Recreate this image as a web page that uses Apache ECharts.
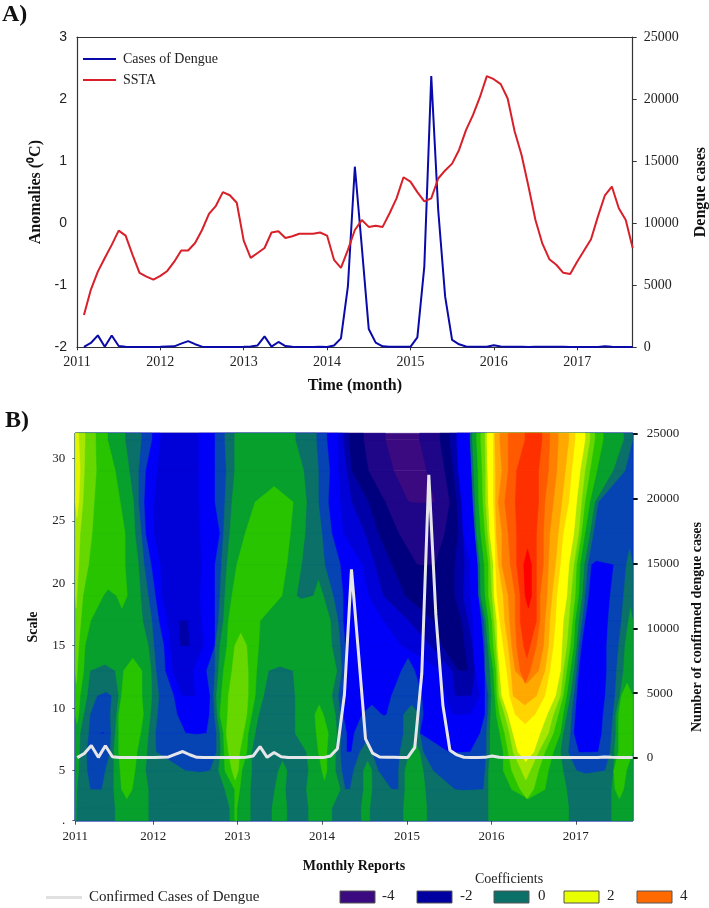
<!DOCTYPE html>
<html><head><meta charset="utf-8">
<script src="https://cdn.jsdelivr.net/npm/echarts@6/dist/echarts.min.js"></script>
<style>html,body{margin:0;padding:0;background:#fff}#c{width:709px;height:908px}</style>
</head><body><div id="c"></div>
<script>
// months counted from January 2011 (1..80)
const months = [1,2,3,4,5,6,7,8,9,10,11,12,13,14,15,16,17,18,19,20,21,22,23,24,25,26,27,28,29,30,31,32,33,34,35,36,37,38,39,40,41,42,43,44,45,46,47,48,49,50,51,52,53,54,55,56,57,58,59,60,61,62,63,64,65,66,67,68,69,70,71,72,73,74,75,76,77,78,79,80];
const ssta = [-1.48,-1.07,-0.78,-0.56,-0.35,-0.12,-0.20,-0.51,-0.80,-0.86,-0.91,-0.85,-0.77,-0.62,-0.44,-0.44,-0.32,-0.11,0.15,0.28,0.50,0.45,0.33,-0.28,-0.56,-0.48,-0.40,-0.15,-0.13,-0.24,-0.21,-0.17,-0.17,-0.17,-0.15,-0.20,-0.59,-0.72,-0.43,-0.11,0.05,-0.06,-0.04,-0.06,0.16,0.40,0.74,0.67,0.50,0.35,0.40,0.72,0.85,0.96,1.18,1.50,1.74,2.03,2.37,2.32,2.24,2.01,1.48,1.10,0.59,0.05,-0.33,-0.58,-0.67,-0.80,-0.82,-0.62,-0.44,-0.26,0.11,0.45,0.59,0.24,0.05,-0.40];
const dengue = [30,350,960,50,950,100,40,30,30,30,30,40,60,80,300,500,250,50,30,30,30,30,30,40,60,150,880,50,430,100,40,30,30,30,40,30,150,720,4900,14550,8100,1480,380,80,50,50,40,40,800,6500,21850,11060,4080,600,240,60,40,40,50,160,60,40,40,40,30,40,40,40,40,40,30,30,30,30,30,80,50,30,30,30];
const yearLabels = ['2011','2012','2013','2014','2015','2016','2017'];
const ticksA = [0,12,24,36,48,60,72];
const ticksB = [0.72,11.8,23.8,35.8,47.9,59.9,71.9];
const scaleTicks = [1,5,10,15,20,25,30];
const casesTicks = [0,5000,10000,15000,20000,25000];

// Coefficient bands: level letter, then the month where the band ends
const levelOrder = ['A','B','C','D','E','F','G','i','j','k','l','m','n','o','p','q','r','s','t','u'];
const levelFill = ['#3b0a80','#1f0688','#00007e','#0000a8','#0000d8','#0000f8','#0644b4','#0a7068','#08a02c','#28c400','#66d800','#a8e800','#e4f400','#ffff00','#ffd400','#ffa800','#ff8000','#ff5a00','#ff3000','#ff0000'];
const rowScales = [2,3.5,5,6.5,8,9.5,11,13,15,17,19,21.5,24,26.5,29,31.5];
const rowS2 = ['j',.85,'i',6.4,'j',11.1,'i',22.7,'j',23.4,'k',23.7,'j',25.6,'i',28.7,'j',30.8,'i',33.9,'j',37.2,'i',41.4,'j',42.6,'i',47.4,'j',50.7,'i',59.5,'j',70.9,'i',77,'j',80];
const rowS3 = ['j',.95,'i',2.85,'G',4.5,'i',6.2,'j',7.3,'k',8.8,'j',11.1,'i',22,'j',23.4,'k',24.1,'j',25.6,'i',29.1,'j',30.6,'i',33.6,'j',38.4,'i',39.1,'G',39.8,'i',41.7,'j',42.9,'i',45.7,'G',46.7,'i',47.6,'j',50.5,'i',54.7,'G',58.8,'i',59.5,'j',62.8,'k',64,'l',65.9,'k',67.5,'j',70.6,'i',77,'j',77.5,'k',78.7,'j',80];
const rowS5 = ['j',1.2,'i',2.4,'G',5,'i',6.2,'j',7.1,'k',9.2,'j',10.7,'i',16.4,'G',19.9,'i',21.1,'j',22,'k',23,'l',23.9,'k',24.4,'j',25.8,'i',29.6,'j',30.8,'i',33.9,'j',35.8,'k',36.5,'j',37.7,'i',38.6,'G',40.3,'i',41.7,'j',42.9,'i',43.8,'G',46.7,'i',47.6,'j',50.2,'i',51.6,'G',59,'i',59.5,'j',61.6,'k',62.8,'l',64.2,'m',65.4,'l',66.6,'k',68,'j',70.1,'i',72,'G',76.1,'i',77.3,'k',79.1,'j',80];
const rowS6 = ['j',1.3,'i',2.3,'G',5.7,'i',6.2,'j',6.9,'k',9.5,'j',10.9,'i',12.2,'G',20.8,'i',21.4,'j',21.9,'k',22.5,'l',24.1,'k',25.1,'j',25.8,'i',33.6,'j',35.3,'k',36.5,'j',37.7,'i',38.4,'G',39.3,'F',40,'G',41.2,'i',42.9,'G',46.9,'i',48.3,'j',49.7,'i',50.2,'G',53.8,'F',56.9,'G',59.2,'i',59.7,'j',61.6,'k',62.3,'l',63,'m',63.7,'o',65.9,'m',66.6,'l',67.5,'k',68.7,'j',69.7,'i',70.8,'G',72.3,'F',75.1,'G',76.8,'i',77.4,'j',78,'k',80];
const rowS8 = ['j',1.4,'i',2.6,'G',4,'F',5,'G',5.8,'i',6.4,'j',6.9,'k',10,'j',11.1,'i',12.1,'G',16.4,'F',19.4,'G',20.8,'i',21.3,'j',21.8,'k',22.2,'l',24.6,'k',25.3,'j',26.3,'i',32,'j',35,'k',36.7,'j',37.9,'i',38.5,'G',39.3,'F',40.4,'G',47.4,'i',49.7,'F',58.3,'G',59.2,'i',59.7,'j',61.1,'k',61.8,'l',62.5,'m',63,'o',66.8,'m',68,'l',68.7,'k',69.7,'j',70.1,'i',71.1,'G',71.6,'F',75.6,'G',77,'i',77.6,'j',78,'k',80];
const rowS9 = ['k',1.2,'j',1.9,'i',2.8,'G',5.7,'i',6.6,'j',6.9,'k',10.4,'j',11.4,'i',12.4,'G',15.2,'F',19.8,'G',20.5,'i',20.9,'j',21.3,'k',22.4,'l',25.1,'k',25.8,'j',26.8,'i',32,'j',34.8,'k',36,'j',37.7,'i',38.4,'G',38.8,'F',41.5,'G',44.3,'F',45,'G',47.4,'i',49.7,'G',50.2,'F',54.3,'E',56.9,'F',59,'G',59.4,'i',59.8,'j',60.6,'k',61.1,'l',61.8,'m',62.3,'o',63.3,'p',66.1,'o',67.8,'m',68.7,'l',69.4,'k',70.1,'j',70.6,'i',71.3,'G',71.8,'F',75.8,'G',77.2,'i',77.6,'j',78,'k',80];
const rowS11 = ['k',1.4,'j',2.4,'i',3.8,'G',5.9,'i',6.9,'j',7.3,'k',10.2,'j',11.6,'i',12.6,'G',14.7,'F',15.9,'E',17.8,'F',19.9,'G',20.4,'i',20.8,'j',21.5,'k',22.5,'l',25.3,'k',26.3,'j',27.5,'i',32,'j',37.2,'i',38.1,'G',38.8,'F',45.7,'G',50,'F',53.3,'E',54.7,'D',57.1,'E',58.3,'F',59,'G',59.5,'i',59.9,'j',60.4,'k',60.7,'l',61,'m',61.4,'o',62.5,'p',63,'q',66.3,'p',67.5,'o',69,'m',69.7,'l',70.1,'k',70.6,'j',71.1,'i',71.6,'G',72,'F',76.1,'G',77.5,'i',78.2,'j',78.4,'k',80];
const rowS13 = ['l',1,'k',1.9,'j',2.8,'i',6.4,'j',7.6,'k',10.2,'j',11.5,'i',12.2,'G',13.5,'F',14.5,'E',17.5,'F',19.4,'G',20.6,'i',21.1,'j',21.8,'k',23,'l',25.3,'k',26.5,'j',28.2,'i',31.7,'j',37.9,'i',38.6,'G',39.1,'F',47.1,'G',49,'F',52.8,'E',54.3,'D',55.2,'C',56.6,'D',57.6,'F',59,'i',59.7,'j',60.2,'k',60.6,'l',60.8,'m',61.1,'o',62.1,'p',62.7,'q',63.3,'r',64,'s',65.4,'r',66.6,'q',67.5,'p',68.2,'o',69.7,'m',70.1,'l',70.6,'k',71.1,'j',71.6,'i',72,'G',72.3,'F',76.3,'G',77.7,'i',78.7,'j',80];
const rowS15 = ['l',1.2,'k',2.1,'j',11.1,'i',11.9,'G',13.3,'F',14.2,'E',15.6,'D',17,'E',19,'F',20.6,'i',21.3,'j',22.3,'k',23.4,'l',25.1,'k',26.8,'j',37.2,'i',38.4,'G',39.1,'F',47.1,'E',51.2,'D',52.8,'C',56.1,'D',57.3,'F',58.8,'G',59,'i',59.4,'j',59.7,'k',60.2,'l',60.6,'m',60.8,'o',61.6,'p',62.3,'q',62.8,'r',63.5,'s',64.5,'t',65.4,'s',66.3,'r',67.3,'q',68,'p',68.7,'o',69.9,'m',70.6,'l',71.1,'k',71.6,'j',72,'i',72.3,'G',72.7,'F',76.3,'G',78,'i',78.9,'j',80];
const rowS17 = ['l',1.5,'k',2.9,'j',10.3,'i',11.6,'G',12.6,'F',13.8,'E',15.4,'D',16.8,'E',18.7,'F',20.6,'G',21.1,'i',21.8,'j',22.5,'k',27,'j',37,'i',38.1,'G',38.8,'F',44.5,'E',48.1,'D',51.6,'C',55.7,'D',56.6,'E',57.3,'F',58.5,'G',58.8,'i',59.1,'j',59.5,'k',60,'l',60.3,'m',60.7,'o',61.1,'p',61.8,'q',62.5,'r',63.3,'s',64,'t',66.3,'s',66.8,'r',67.5,'q',68.2,'p',69,'o',70.1,'m',70.9,'l',71.4,'k',71.8,'j',72.3,'i',72.8,'G',73.2,'F',76.5,'G',78.4,'i',79.4,'j',80];
const rowS19 = ['m',.95,'l',1.8,'k',4.7,'j',6.6,'k',8.1,'j',10,'i',11.1,'G',12.1,'F',13,'E',18.5,'F',20.6,'G',21.3,'i',22,'j',23,'k',30.1,'j',32.2,'i',34.6,'j',36,'i',37.4,'G',38.8,'F',42.4,'E',44.5,'D',47.6,'C',54.7,'D',55.9,'E',56.9,'F',58.1,'i',58.4,'j',59,'k',59.5,'l',60,'m',60.3,'o',60.7,'p',61.6,'q',62.3,'r',63.3,'s',64,'t',64.7,'u',65.6,'t',66.3,'s',66.8,'r',67.8,'q',68.5,'p',69.2,'o',70.6,'m',71.2,'l',71.8,'k',72.3,'j',72.8,'i',73.2,'G',73.7,'F',76.8,'G',78.7,'i',80];
const rowS21 = ['m',1.2,'l',2.6,'k',7.8,'j',9.7,'i',10.5,'G',11.5,'F',12.8,'E',18.7,'F',20.6,'G',21.5,'i',22.3,'j',23.7,'k',30.8,'j',32.9,'i',36.2,'G',38.4,'F',41.5,'E',43.3,'D',45.7,'C',49.3,'B',51.9,'C',54.7,'D',56.1,'E',56.9,'F',58,'i',58.3,'j',58.9,'k',59.5,'l',59.8,'m',60.2,'o',60.5,'p',60.9,'q',61.4,'r',62.6,'s',63.5,'t',64.5,'u',65.6,'t',66.3,'s',67.3,'r',68,'q',69,'p',69.7,'o',70.9,'m',71.6,'l',72,'k',72.5,'j',73.1,'i',73.6,'G',74.1,'F',77.3,'G',79.1,'i',80];
const rowS24 = ['m',1.4,'l',3.1,'k',7.8,'j',9.2,'i',10.1,'G',10.7,'F',11.9,'E',18.5,'F',21.3,'G',21.8,'i',22.7,'j',24.9,'k',31.3,'j',33.4,'i',35.8,'G',37.2,'F',38.8,'E',41.9,'D',43.8,'C',46.7,'B',53.3,'C',55.2,'D',55.9,'F',57.6,'i',57.8,'j',58.4,'k',59,'l',59.4,'m',59.7,'o',60.4,'p',60.6,'q',61.4,'r',62.3,'s',63.5,'t',66.3,'s',67.3,'r',68.2,'q',69.4,'p',70.1,'o',71.6,'m',72.3,'l',72.7,'k',73.2,'j',73.9,'i',74.4,'G',80];
const rowS26 = ['n',1.2,'m',1.8,'l',3.4,'k',7.1,'j',9,'i',9.7,'G',10.5,'F',11.9,'E',18.3,'F',20.6,'G',22,'i',23,'j',26.3,'k',31.7,'j',33.6,'i',35.3,'G',36.7,'F',38.4,'E',40,'D',42.4,'C',44.8,'B',48.1,'A',51.9,'B',54,'C',55,'D',55.7,'F',57.3,'i',57.6,'j',58.1,'k',58.7,'l',59.1,'m',59.5,'o',60.2,'p',60.5,'q',60.9,'r',61.8,'s',63.3,'t',66.6,'s',67.5,'r',68.7,'q',69.9,'p',70.9,'o',72,'m',72.7,'l',73.2,'k',73.9,'j',74.6,'i',75.1,'G',80];
const rowS29 = ['n',1.4,'m',2,'l',3.7,'k',6.4,'j',8.4,'i',9.7,'G',10.7,'F',12.3,'E',18.3,'F',20.6,'G',22.2,'i',23.4,'j',33.2,'i',35.3,'G',36.9,'F',38.1,'E',39.3,'D',40,'C',42.4,'B',46,'A',50.7,'B',53.3,'C',54.5,'D',55.2,'F',57.1,'i',57.4,'j',58,'k',58.6,'l',59.1,'m',59.4,'o',60.2,'p',60.5,'q',61.4,'r',62.3,'s',63.5,'t',66.6,'s',68,'r',69.2,'q',70.4,'p',71.3,'o',72.5,'m',73.2,'l',73.9,'k',74.9,'j',77.2,'i',78.9,'G',80];
const rowS31 = ['n',1.2,'m',2.1,'l',3.6,'k',5.3,'j',7.8,'i',10.1,'G',11.6,'F',12.8,'E',18.3,'F',20.6,'G',22,'i',23.4,'j',32,'i',35,'G',36.5,'F',38.1,'E',38.8,'D',39.6,'C',41.7,'B',44.8,'A',49.7,'B',52.6,'C',54,'D',55,'F',56.9,'i',57.2,'j',57.8,'k',58.4,'l',59,'m',59.3,'o',60.2,'p',60.4,'q',61.1,'r',62.3,'s',64.7,'t',67.1,'s',68.2,'r',69.4,'q',70.9,'p',71.8,'o',73.2,'m',73.9,'l',74.6,'k',75.8,'j',78.7,'i',80];
const rows = [rowS2,rowS3,rowS5,rowS6,rowS8,rowS9,rowS11,rowS13,rowS15,rowS17,rowS19,rowS21,rowS24,rowS26,rowS29,rowS31];

const colorKeys = [-4,-2,0,2,4];
const colorKeyFill = ['#3b0a80','#0000a0','#0a7068','#e8ff00','#ff6a00'];

const xMin = 0.72, xMax = 80, yMin = 1, yMax = 32;

// Filled contours: for every level, the stretches of each row at or above it are joined to the
// overlapping stretches of the next row, lowest level first.
function stretches(row, rank){
  const out=[]; let start=xMin, cur=null;
  for(let k=0;k<row.length;k+=2){
    const on = levelOrder.indexOf(row[k])>=rank, end=row[k+1];
    if(on){ if(cur) cur[1]=end; else { cur=[start,end]; out.push(cur);} } else cur=null;
    start=end;
  }
  return out;
}
const cells=[];
const stack=[rows[0],...rows,rows[rows.length-1]], ys=[yMin,...rowScales,yMax];
levelOrder.forEach((_,rank)=>{
  for(let r=0;r<stack.length-1;r++){
    const a=stretches(stack[r],rank), b=stretches(stack[r+1],rank), y0=ys[r], y1=ys[r+1], ym=(y0+y1)/2;
    a.forEach(p=>{
      const hit=b.filter(q=>q[0]<p[1]&&q[1]>p[0]);
      hit.forEach(q=>cells.push([p[0],p[1],q[0],q[1],y0,y1,rank]));
      if(!hit.length) cells.push([p[0],p[1],(p[0]+p[1])/2,(p[0]+p[1])/2,y0,ym,rank]);
    });
    b.forEach(q=>{
      if(!a.some(p=>q[0]<p[1]&&q[1]>p[0])) cells.push([q[0],q[1],(q[0]+q[1])/2,(q[0]+q[1])/2,y1,ym,rank]);
    });
  }
});

const serif = '"Liberation Serif"', sans = '"Liberation Sans"';
const pair = (a)=>months.map((m,i)=>[m,a[i]]);
const chart = echarts.init(document.getElementById('c'),null,{renderer:'canvas'});
const axisLine = {show:true,onZero:false,lineStyle:{color:'#333',width:1.2}};
const graphic = [
 {type:'text',left:2,top:3,style:{text:'A)',font:'bold 24px '+serif,fill:'#111'}},
 {type:'text',left:5,top:409,style:{text:'B)',font:'bold 24px '+serif,fill:'#111'}},
 {type:'text',left:475,top:872,style:{text:'Coefficients',font:'14px '+serif,fill:'#222'}}
];
const swX = [340,417,494,564,637], labX=[382,460,538,607,680];
colorKeys.forEach((v,i)=>{
  graphic.push({type:'rect',shape:{x:swX[i],y:891,width:35,height:12},style:{fill:colorKeyFill[i],stroke:'#555',lineWidth:1}});
  graphic.push({type:'text',left:labX[i],top:889,style:{text:String(v),font:'15px '+serif,fill:'#222'}});
});
chart.setOption({
 animation:false,
 backgroundColor:'#fff',
 textStyle:{fontFamily:serif},
 graphic,
 legend:[
  {data:['Cases of Dengue','SSTA'],orient:'vertical',left:78,top:47,itemWidth:33,itemHeight:2,itemGap:7,icon:'rect',
   textStyle:{fontFamily:serif,fontSize:14,color:'#222',padding:[0,0,0,2]}},
  {data:['Confirmed Cases of Dengue'],left:41,top:885,itemWidth:36,itemHeight:3,icon:'rect',
   textStyle:{fontFamily:serif,fontSize:15,color:'#222',padding:[0,0,0,2]}}
 ],
 grid:[
  {left:77,top:37,width:555.7,height:310.3,show:false,outerBoundsMode:'none'},
  {left:75.3,top:433.3,width:557.4,height:387.4,show:false,outerBoundsMode:'none'}
 ],
 xAxis:[
  {type:'value',gridIndex:0,min:0,max:80,position:'bottom',axisLine,
   splitLine:{show:false},name:'Time (month)',nameLocation:'middle',nameGap:31,
   nameTextStyle:{fontFamily:serif,fontWeight:'bold',fontSize:16,color:'#111'},
   axisTick:{show:true,length:3,customValues:ticksA,lineStyle:{color:'#333'}},
   axisLabel:{customValues:ticksA,fontFamily:serif,fontSize:14,color:'#222',margin:8,
     formatter:v=>yearLabels[ticksA.indexOf(v)]}},
  {type:'value',gridIndex:0,min:0,max:80,position:'top',axisLine,axisTick:{show:false},axisLabel:{show:false},splitLine:{show:false}},
  {type:'value',gridIndex:1,min:xMin,max:xMax,position:'bottom',axisLine,
   splitLine:{show:false},name:'Monthly Reports',nameLocation:'middle',nameGap:39,
   nameTextStyle:{fontFamily:serif,fontWeight:'bold',fontSize:14,color:'#111'},
   axisTick:{show:true,length:4,customValues:ticksB,lineStyle:{color:'#555'}},
   axisLabel:{customValues:ticksB,fontFamily:serif,fontSize:13,color:'#222',margin:9,hideOverlap:false,
     formatter:v=>yearLabels[ticksB.indexOf(v)]}}
 ],
 yAxis:[
  {type:'value',gridIndex:0,min:-2,max:3,interval:1,position:'left',axisLine,axisTick:{show:false},splitLine:{show:false},
   name:'Anomalies (⁰C)',nameLocation:'middle',nameRotate:90,nameGap:28,
   nameTextStyle:{fontFamily:serif,fontWeight:'bold',fontSize:16,color:'#111'},
   axisLabel:{fontFamily:sans,fontSize:14,color:'#222',margin:10}},
  {type:'value',gridIndex:0,min:0,max:25000,interval:5000,position:'right',axisLine,
   axisTick:{show:true,length:4,inside:false,lineStyle:{color:'#333'}},splitLine:{show:false},
   name:'Dengue cases',nameLocation:'middle',nameRotate:90,nameGap:60,
   nameTextStyle:{fontFamily:serif,fontWeight:'bold',fontSize:16,color:'#111'},
   axisLabel:{fontFamily:serif,fontSize:14,color:'#222',margin:11,formatter:v=>String(v)}},
  {type:'value',gridIndex:1,min:1,max:32,position:'left',axisLine,splitLine:{show:false},
   name:'Scale',nameLocation:'middle',nameRotate:90,nameGap:35,
   nameTextStyle:{fontFamily:serif,fontWeight:'bold',fontSize:14,color:'#111'},
   axisTick:{show:true,length:3,customValues:scaleTicks,lineStyle:{color:'#666'}},
   axisLabel:{customValues:scaleTicks,fontFamily:serif,fontSize:13,color:'#222',margin:10,formatter:v=>v===1?'.':String(v)}},
  {type:'value',gridIndex:1,min:-4838,max:25054,position:'right',axisLine:{show:true,onZero:false,lineStyle:{color:'#222',width:1.2}},splitLine:{show:false},
   name:'Number of confirmed dengue cases',nameLocation:'middle',nameRotate:90,nameGap:52,
   nameTextStyle:{fontFamily:serif,fontWeight:'bold',fontSize:14,color:'#111'},
   axisTick:{show:true,length:5,customValues:casesTicks,lineStyle:{color:'#111',width:2}},
   axisLabel:{customValues:casesTicks,fontFamily:serif,fontSize:13,color:'#222',margin:14,formatter:v=>String(v)}}
 ],
 series:[
  {name:'Cases of Dengue',type:'line',xAxisIndex:0,yAxisIndex:1,data:pair(dengue),showSymbol:false,lineStyle:{color:'#0a0aa8',width:2},itemStyle:{color:'#0a0aa8'},z:3},
  {name:'SSTA',type:'line',xAxisIndex:0,yAxisIndex:0,data:pair(ssta),showSymbol:false,lineStyle:{color:'#d8202a',width:2},itemStyle:{color:'#d8202a'},z:4},
  {name:'Coefficients',type:'custom',xAxisIndex:2,yAxisIndex:2,data:cells,z:1,silent:true,encode:{x:[0,1],y:[4,5]},
   renderItem:(p,api)=>{
     const v=i=>api.value(i);
     const pts=[api.coord([v(0),v(4)]),api.coord([v(1),v(4)]),api.coord([v(3),v(5)]),api.coord([v(2),v(5)])];
     const c=levelFill[v(6)];
     return {type:'polygon',shape:{points:pts},style:{fill:c,stroke:c,lineWidth:0.5}};
   }},
  {name:'Confirmed Cases of Dengue',type:'line',xAxisIndex:2,yAxisIndex:3,data:pair(dengue),showSymbol:false,lineStyle:{color:'#e6e6ea',width:3},itemStyle:{color:'#e0e0e0'},z:5}
 ]
});
</script></body></html>
